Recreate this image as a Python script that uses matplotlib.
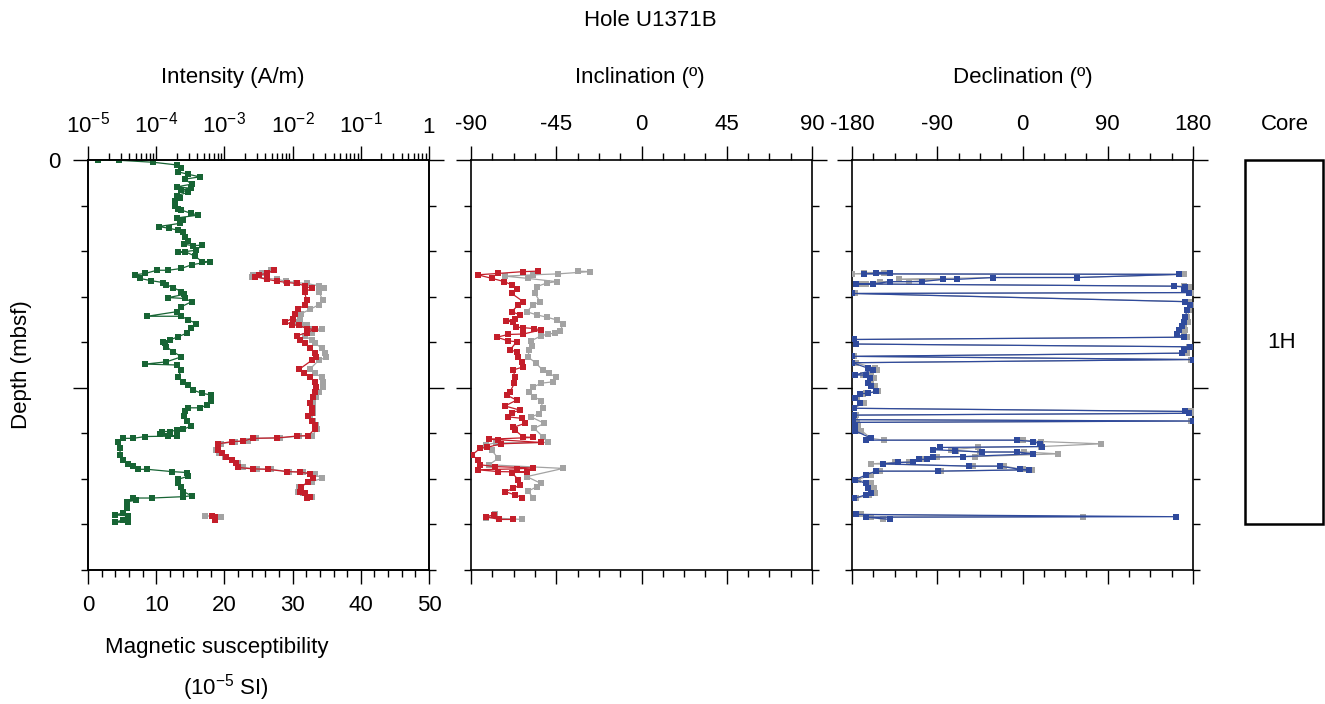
import numpy as np
import matplotlib
matplotlib.use('Agg')
import matplotlib.pyplot as plt
from matplotlib.ticker import FixedLocator, MultipleLocator, NullFormatter, FixedFormatter, LogLocator
from matplotlib.patches import Rectangle

plt.rcParams['font.family'] = ['Liberation Sans', 'DejaVu Sans']
plt.rcParams['mathtext.fontset'] = 'custom'
plt.rcParams['mathtext.rm'] = 'Liberation Sans'
plt.rcParams['mathtext.it'] = 'Liberation Sans:italic'
plt.rcParams['axes.unicode_minus'] = False
FS = 16
plt.rcParams['font.size'] = FS

# ---------------- data ----------------
# magnetic susceptibility (10^-5 SI)
sus_depth = [0.007, 0.007, 0.05, 0.11, 0.17, 0.26, 0.31, 0.37, 0.42, 0.53,
             0.59, 0.62, 0.66, 0.71, 0.78, 0.84, 0.91, 1.00, 1.08, 1.10,
             1.17, 1.21, 1.27, 1.32, 1.39, 1.46, 1.50, 1.54, 1.59, 1.68,
             1.78, 1.85, 1.88, 1.87, 1.98, 2.03, 2.01, 2.11, 2.23, 2.23,
             2.30, 2.38, 2.42, 2.42, 2.49, 2.52, 2.60, 2.65, 2.69, 2.74,
             2.80, 2.89, 2.95, 3.02, 3.04, 3.11, 3.22, 3.33, 3.43, 3.43,
             3.51, 3.59, 3.69, 3.80, 3.88, 3.95, 4.00, 4.01, 4.10, 4.21,
             4.32, 4.43, 4.48, 4.50, 4.61, 4.76, 4.87, 4.94, 5.05, 5.12,
             5.16, 5.30, 5.38, 5.44, 5.44, 5.52, 5.63, 5.74, 5.84, 5.91,
             5.93, 5.96, 5.96, 6.02, 6.06, 6.06, 6.07, 6.11, 6.11, 6.18,
             6.33, 6.47, 6.58, 6.67, 6.71, 6.79, 6.79, 6.84, 6.86, 6.94,
             7.01, 7.10, 7.17, 7.28, 7.37, 7.39, 7.42, 7.42, 7.47, 7.50,
             7.64, 7.75, 7.79, 7.81, 7.90, 7.95, 7.95]
sus_value = [1.4, 4.6, 9.6, 13.1, 13.7, 13.2, 14.6, 16.4, 14.2, 15.2,
             13.0, 15.1, 13.7, 14.7, 13.0, 13.5, 12.8, 12.8, 13.2, 13.7,
             15.1, 16.2, 13.1, 14.0, 13.5, 10.4, 11.9, 13.2, 13.9, 14.2,
             14.7, 14.1, 15.4, 16.7, 15.9, 13.2, 14.2, 15.7, 16.7, 17.9,
             15.2, 13.7, 11.8, 10.1, 8.4, 6.9, 7.6, 9.3, 11.0, 11.5,
             12.5, 13.7, 14.1, 11.8, 14.2, 15.2, 13.7, 13.0, 8.7, 13.7,
             14.7, 15.9, 15.1, 14.5, 13.2, 12.0, 11.0, 11.3, 11.5, 12.5,
             13.7, 11.5, 8.4, 13.0, 13.7, 13.2, 14.0, 14.7, 15.4, 16.7,
             18.1, 18.1, 17.4, 16.4, 14.7, 14.2, 14.1, 14.5, 15.1, 14.0,
             13.0, 12.0, 10.8, 10.6, 11.7, 13.0, 8.4, 6.6, 5.2, 4.4,
             4.7, 4.7, 5.2, 5.9, 6.6, 7.4, 8.7, 12.3, 14.5, 14.7,
             13.2, 13.2, 13.7, 14.0, 15.2, 14.0, 9.4, 6.6, 7.1, 5.7,
             5.7, 5.2, 3.9, 5.9, 5.2, 3.9, 5.8]

# NRM intensity (A/m): grey = NRM, red = after demagnetization
int_depth = [2.41, 2.49, 2.52, 2.56, 2.62, 2.66, 2.69, 2.71, 2.76, 2.82,
             2.90, 3.07, 3.18, 3.28, 3.37, 3.48, 3.55, 3.62, 3.63, 3.70,
             3.72, 3.79, 3.86, 3.95, 4.02, 4.13, 4.24, 4.33, 4.40, 4.59,
             4.68, 4.77, 4.87, 4.98, 5.10, 5.21, 5.34, 5.45, 5.56, 5.63,
             5.74, 5.82, 5.91, 6.05, 6.06, 6.10, 6.11, 6.17, 6.18, 6.23,
             6.37, 6.44, 6.51, 6.58, 6.66, 6.75, 6.78, 6.79, 6.84, 6.85,
             6.89, 6.99, 7.06, 7.17, 7.28, 7.31, 7.39, 7.42, 7.81, 7.83,
             7.90]
int_demag = [5.4e-3, 4.2e-3, 3.2e-3, 2.8e-3, 4.2e-3, 6.0e-3, 8.3e-3, 1.15e-2, 1.5e-2, 1.9e-2,
             1.5e-2, 1.6e-2, 1.5e-2, 1.2e-2, 1.07e-2, 1.0e-2, 7.8e-3, 9.8e-3, 1.26e-2, 1.6e-2,
             2.1e-2, 1.6e-2, 1.15e-2, 1.3e-2, 1.5e-2, 1.8e-2, 2.1e-2, 2.2e-2, 1.9e-2, 1.26e-2,
             1.45e-2, 1.8e-2, 2.1e-2, 2.2e-2, 2.1e-2, 2.0e-2, 1.8e-2, 1.95e-2, 1.9e-2, 1.66e-2,
             1.9e-2, 2.1e-2, 2.1e-2, 1.7e-2, 1.15e-2, 6.0e-3, 2.6e-3, 1.9e-3, 1.3e-3, 8.1e-4,
             8.1e-4, 9.3e-4, 1.07e-3, 1.3e-3, 1.5e-3, 1.6e-3, 2.6e-3, 4.3e-3, 8.3e-3, 1.3e-2,
             1.8e-2, 2.0e-2, 1.7e-2, 1.35e-2, 1.3e-2, 1.5e-2, 1.8e-2, 1.6e-2, 6.5e-4, 7.2e-4,
             7.2e-4]
int_nrm = [4.9e-3, 3.5e-3, 2.6e-3, 2.5e-3, 6.0e-3, 7.9e-3, 1.12e-2, 1.6e-2, 2.4e-2, 2.9e-2,
           2.45e-2, 2.75e-2, 2.4e-2, 1.8e-2, 1.35e-2, 1.3e-2, 1.1e-2, 1.45e-2, 1.6e-2, 2.0e-2,
           2.7e-2, 1.9e-2, 1.5e-2, 1.9e-2, 2.1e-2, 2.7e-2, 2.95e-2, 3.1e-2, 2.4e-2, 1.8e-2,
           2.1e-2, 2.7e-2, 2.8e-2, 2.8e-2, 2.4e-2, 2.2e-2, 2.0e-2, 2.0e-2, 2.0e-2, 1.8e-2,
           2.0e-2, 2.2e-2, 2.3e-2, 1.9e-2, 1.26e-2, 6.6e-3, 2.9e-3, 2.2e-3, 1.45e-3, 8.9e-4,
           7.6e-4, 8.3e-4, 1.02e-3, 1.3e-3, 1.6e-3, 1.9e-3, 3.0e-3, 4.8e-3, 8.9e-3, 1.4e-2,
           2.1e-2, 2.7e-2, 1.9e-2, 1.26e-2, 1.2e-2, 1.4e-2, 1.9e-2, 1.6e-2, 5.2e-4, 8.9e-4,
           7.2e-4]

# Inclination (deg)
inc_demag_depth = [2.44, 2.45, 2.49, 2.52, 2.60, 2.67, 2.74, 2.84, 2.93, 3.11,
                   3.18, 3.33, 3.40, 3.50, 3.53, 3.56, 3.67, 3.68, 3.70, 3.73,
                   3.82, 3.83, 3.89, 3.97, 3.99, 4.17, 4.21, 4.32, 4.43, 4.54,
                   4.61, 4.76, 4.90, 5.09, 5.16, 5.27, 5.40, 5.49, 5.55, 5.64,
                   5.67, 5.78, 5.87, 5.93, 6.08, 6.09, 6.13, 6.14, 6.20, 6.23,
                   6.31, 6.33, 6.48, 6.58, 6.69, 6.73, 6.76, 6.78, 6.80, 6.84,
                   6.85, 6.86, 7.02, 7.13, 7.21, 7.28, 7.35, 7.41, 7.79, 7.83,
                   7.89, 7.89]
inc_demag = [-54.8, -62.4, -75.6, -86.5, -78.8, -72.4, -68.5, -65.9, -68.5, -62.4,
             -65.0, -68.5, -64.1, -66.8, -71.5, -68.0, -66.2, -62.7, -56.6, -53.0,
             -62.4, -70.3, -76.4, -70.3, -65.9, -69.4, -65.9, -65.0, -63.2, -62.4,
             -67.7, -66.8, -67.1, -69.4, -71.2, -65.9, -72.1, -64.1, -68.5, -70.3,
             -63.2, -61.5, -67.7, -66.8, -62.4, -57.1, -80.5, -75.6, -53.0, -74.2,
             -81.7, -85.2, -89.6, -86.1, -85.2, -77.3, -57.1, -65.9, -86.5, -75.6,
             -60.6, -68.5, -65.0, -64.1, -67.7, -72.1, -66.8, -62.9, -77.7, -82.3,
             -75.0, -67.7]
inc_nrm_depth = [2.44, 2.45, 2.50, 2.52, 2.55, 2.60, 2.67, 2.70, 2.78, 2.93,
                 3.11, 3.18, 3.33, 3.40, 3.45, 3.51, 3.60, 3.75, 3.80, 3.82,
                 3.86, 3.97, 4.08, 4.17, 4.32, 4.46, 4.61, 4.68, 4.77, 4.87,
                 4.90, 4.99, 5.10, 5.20, 5.28, 5.45, 5.57, 5.64, 5.78, 5.89,
                 6.07, 6.20, 6.21, 6.25, 6.37, 6.55, 6.69, 6.77, 6.95, 7.10,
                 7.17, 7.27, 7.41, 7.78, 7.85, 7.89]
inc_nrm = [-33.4, -27.2, -44.2, -57.1, -72.1, -59.7, -44.8, -50.0, -55.3, -56.2,
           -53.6, -57.1, -60.6, -55.3, -50.0, -44.8, -41.3, -43.0, -45.7, -49.2,
           -53.0, -58.3, -57.9, -59.2, -60.0, -55.7, -52.2, -48.7, -45.1, -46.9,
           -53.0, -57.4, -59.2, -56.6, -53.0, -52.2, -54.0, -58.3, -51.3, -56.6,
           -52.2, -49.2, -77.0, -82.0, -79.1, -75.6, -80.5, -41.3, -60.6, -53.0,
           -55.0, -60.0, -57.1, -77.5, -82.0, -63.2]

# Declination (deg)
dec_depth = [2.47, 2.47, 2.50, 2.51, 2.58, 2.58, 2.62, 2.62, 2.67, 2.67,
             2.72, 2.72, 2.77, 2.79, 2.85, 2.91, 2.93, 3.11, 3.18, 3.29,
             3.44, 3.55, 3.64, 3.73, 3.82, 3.89, 3.94, 4.04, 4.10, 4.17,
             4.24, 4.31, 4.38, 4.45, 4.57, 4.61, 4.72, 4.72, 4.79, 4.90,
             4.97, 5.08, 5.12, 5.13, 5.23, 5.34, 5.45, 5.52, 5.56, 5.60,
             5.70, 5.73, 5.76, 5.85, 5.94, 6.11, 6.15, 6.15, 6.18, 6.23,
             6.29, 6.31, 6.36, 6.38, 6.41, 6.41, 6.45, 6.51, 6.52, 6.57,
             6.57, 6.63, 6.64, 6.67, 6.72, 6.72, 6.79, 6.80, 6.83, 6.83,
             6.91, 7.02, 7.10, 7.21, 7.30, 7.35, 7.43, 7.78, 7.83, 7.84,
             7.89]
dec_demag = [-154.2, -140.1, -167.6, 164.8, 57.3, -30.9, -68.9, -83.8, -106.6, -140.1,
             -157.8, -176.1, 159.5, 171.9, 170.1, 175.4, -179.6, 171.9, 177.2, 173.7,
             171.9, 170.1, 168.4, 164.8, 163.1, 170.1, -178.2, -175.3, 177.2, 170.1,
             168.4, -179.6, 179.5, -179.6, -163.1, -157.8, -177.1, -164.8, -161.2, -163.1,
             -159.5, -154.9, -163.1, -171.1, -177.1, -171.1, -178.2, 171.9, 175.4, -178.2,
             -178.9, 179.5, -178.9, -177.1, -177.1, -159.5, -164.8, -6.1, 10.8, 18.5,
             20.3, -87.3, -94.3, -71.4, -43.2, -5.5, 10.8, -62.6, -94.3, -101.3,
             -109.1, -115.5, -131.3, -147.2, -56.3, -23.8, -2.6, 7.2, -89.0, -154.9,
             -164.8, -177.1, -164.8, -163.1, -159.5, -165.5, -178.2, -176.1, 162.3, -164.8,
             -140.1]
dec_nrm = [-167.6, -146.0, -179.6, 170.0, 57.3, -30.9, -130.0, -83.8, -120.0, -150.0,
           -165.0, -170.0, 170.0, 176.0, 174.0, 178.0, -177.0, 176.0, 179.0, 176.0,
           174.0, 175.0, 170.0, 172.0, 170.0, 174.0, -178.9, -176.0, 176.0, 173.0,
           174.0, -178.0, 178.0, -176.0, -156.0, -154.0, -168.0, -160.0, -157.0, -160.0,
           -156.0, -153.0, -165.0, -168.0, -175.0, -167.0, -178.9, 178.0, 178.5, -176.0,
           -177.0, 178.0, -175.0, -174.0, -170.0, -160.0, -146.0, 0.0, 20.0, 83.1,
           20.0, -47.0, -76.0, -70.0, -45.0, 2.0, 37.9, -50.0, -90.0, -105.0,
           -108.0, -120.0, -135.0, -160.0, -52.0, -20.0, 0.0, 10.0, -86.0, -150.0,
           -160.0, -174.0, -160.0, -157.0, -156.0, -162.0, -176.0, -170.0, 63.7, -160.0,
           -147.0]

core_names = ['1H']
core_top = [0.0]
core_bottom = [8.0]

# ---------------- styling ----------------
GREEN = '#176434'
RED = '#c41e2a'
GREY = '#a3a3a3'
BLUE = '#2f4a9c'
W, H = 1325, 704
fig = plt.figure(figsize=(W / 100, H / 100), dpi=100)


def fax(x0, x1, y0, y1):
    return fig.add_axes([x0 / W, 1 - y1 / H, (x1 - x0) / W, (y1 - y0) / H])


def segments(d, v, gap=0.3):
    d = np.asarray(d, float)
    v = np.asarray(v, float)
    br = np.where(np.abs(np.diff(d)) > gap)[0] + 1
    return zip(np.split(d, br), np.split(v, br))


def draw(ax, d, v, color, z):
    for ds, vs in segments(d, v):
        ax.plot(vs, ds, '-', color=color, lw=0.9, zorder=z)
        ax.plot(vs, ds, 's', color=color, ms=4.5, mec=color, mew=0, zorder=z + 0.1)


MAJ, MIN, TW = 10.0, 5.2, 1.0


def style_y(ax, label0=False):
    ax.set_ylim(9, 0)
    ax.yaxis.set_major_locator(FixedLocator([0, 5]))
    ax.yaxis.set_minor_locator(MultipleLocator(1))
    ax.tick_params(axis='y', which='major', direction='out', length=MAJ + 0.5, width=TW,
                   left=True, right=True, pad=9)
    ax.tick_params(axis='y', which='minor', direction='out', length=MIN, width=TW,
                   left=True, right=True)
    if label0:
        ax.yaxis.set_major_formatter(FixedFormatter(['0', '']))
    else:
        ax.yaxis.set_major_formatter(NullFormatter())
    for s in ax.spines.values():
        s.set_linewidth(1.2)


# Panel 1: susceptibility (bottom) + intensity (top, log)
ax1 = fax(88, 429, 160, 570)
style_y(ax1, label0=True)
ax1.set_xlim(0, 50)
ax1.xaxis.set_major_locator(MultipleLocator(10))
ax1.xaxis.set_minor_locator(MultipleLocator(2))
ax1.tick_params(axis='x', which='major', direction='out', length=MAJ, width=TW,
                bottom=True, top=False, pad=8)
ax1.tick_params(axis='x', which='minor', direction='out', length=MIN, width=TW,
                bottom=True, top=False)
draw(ax1, sus_depth, sus_value, GREEN, 3)

ax1t = ax1.twiny()
ax1t.set_xscale('log')
ax1t.set_xlim(1e-5, 1)
ax1t.set_ylim(9, 0)
ax1t.xaxis.set_minor_locator(LogLocator(base=10, subs=np.arange(2, 10), numticks=20))
ax1t.xaxis.set_minor_formatter(NullFormatter())
ax1t.xaxis.set_major_locator(FixedLocator([1e-5, 1e-4, 1e-3, 1e-2, 1e-1, 1]))
ax1t.xaxis.set_major_formatter(FixedFormatter(
    [r'$\mathregular{10^{-5}}$', r'$\mathregular{10^{-4}}$', r'$\mathregular{10^{-3}}$',
     r'$\mathregular{10^{-2}}$', r'$\mathregular{10^{-1}}$', '1']))
ax1t.tick_params(axis='x', which='major', direction='out', length=MAJ, width=TW,
                 top=True, bottom=False, pad=6)
ax1t.tick_params(axis='x', which='minor', direction='out', length=MIN, width=TW,
                 top=True, bottom=False)
for s in ax1t.spines.values():
    s.set_linewidth(1.2)
draw(ax1t, int_depth, int_nrm, GREY, 3)
draw(ax1t, int_depth, int_demag, RED, 4)

# Panel 2: inclination
ax2 = fax(471, 812, 160, 570)
style_y(ax2)
ax2.set_xlim(-90, 90)
ax2.xaxis.set_major_locator(MultipleLocator(45))
ax2.xaxis.set_minor_locator(MultipleLocator(11.25))
ax2.xaxis.tick_top()
ax2.tick_params(axis='x', which='major', direction='out', length=MAJ, width=TW,
                top=True, bottom=True, labeltop=True, labelbottom=False, pad=8)
ax2.tick_params(axis='x', which='minor', direction='out', length=MIN, width=TW,
                top=True, bottom=True)
draw(ax2, inc_nrm_depth, inc_nrm, GREY, 3)
draw(ax2, inc_demag_depth, inc_demag, RED, 4)

# Panel 3: declination
ax3 = fax(852, 1193, 160, 570)
style_y(ax3)
ax3.set_xlim(-180, 180)
ax3.xaxis.set_major_locator(MultipleLocator(90))
ax3.xaxis.set_minor_locator(MultipleLocator(22.5))
ax3.xaxis.tick_top()
ax3.tick_params(axis='x', which='major', direction='out', length=MAJ, width=TW,
                top=True, bottom=True, labeltop=True, labelbottom=False, pad=8)
ax3.tick_params(axis='x', which='minor', direction='out', length=MIN, width=TW,
                top=True, bottom=True)
draw(ax3, dec_depth, dec_nrm, GREY, 3)
draw(ax3, dec_depth, dec_demag, BLUE, 4)

# Core column
axc = fax(1243, 1325, 160, 570)
axc.set_ylim(9, 0)
axc.set_xlim(0, 1)
axc.axis('off')
for name, t, b in zip(core_names, core_top, core_bottom):
    axc.add_patch(Rectangle((0.02, t), 0.96, b - t, fill=False, lw=1.8, ec='black',
                            clip_on=False))
    axc.text(0.47, (t + b) / 2, name, ha='center', va='center', fontsize=FS)


# Texts
def ftext(x, y, s, **kw):
    fig.text(x / W, 1 - y / H, s, ha='center', va='center', fontsize=FS, **kw)


ftext(650, 20, 'Hole U1371B')
ftext(233, 77, 'Intensity (A/m)')
ftext(640, 77, 'Inclination (º)')
ftext(1023, 77, 'Declination (º)')
ftext(1285, 125, 'Core')
ftext(22, 365, 'Depth (mbsf)', rotation=90)
ftext(217, 648, 'Magnetic susceptibility')
ftext(226, 688, r'(10$^{\mathregular{-5}}$ SI)')

fig.savefig('out.png', dpi=100)
